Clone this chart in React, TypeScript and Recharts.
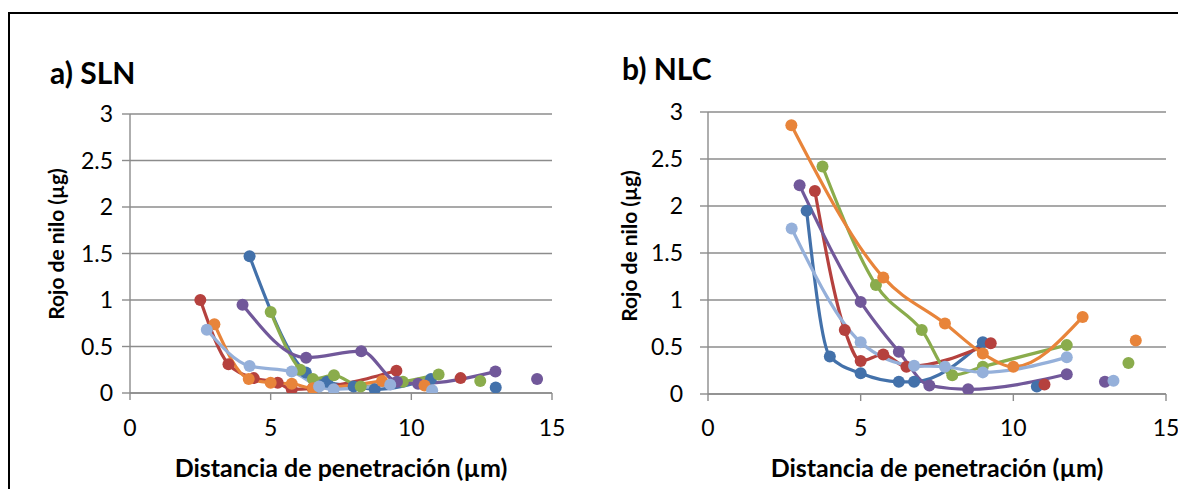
import { CartesianGrid, Line, LineChart, XAxis, YAxis } from 'recharts'

const FONT = 'Lato, "Open Sans", sans-serif'
const GRID = '#8c8c8c'

const BLUE = '#4371aa'
const RED = '#b5413e'
const GREEN = '#8aac4c'
const PURPLE = '#71589a'
const ORANGE = '#e8843a'
const LIGHT_BLUE = '#95b0da'

const X_TICKS = [0, 5, 10, 15]
const Y_TICKS = [0, 0.5, 1, 1.5, 2, 2.5, 3]

// a) SLN — connected points, then the loose point at the far end of each series
const slnBlue = [[4.25, 1.47], [6.25, 0.22], [7.0, 0.12], [7.95, 0.07], [8.7, 0.04], [10.7, 0.15]]
const slnBlueLoose = [[13.0, 0.06]]
const slnRed = [[2.5, 1.0], [3.5, 0.31], [4.4, 0.16], [5.25, 0.11], [5.75, 0.04], [6.5, 0.05], [9.47, 0.24]]
const slnRedLoose = [[11.75, 0.16]]
const slnGreen = [[5.0, 0.87], [6.05, 0.25], [6.5, 0.15], [7.25, 0.19], [8.2, 0.07], [9.7, 0.12], [10.97, 0.2]]
const slnGreenLoose = [[12.45, 0.13]]
const slnPurple = [[4.0, 0.95], [6.26, 0.38], [8.22, 0.45], [9.49, 0.12], [10.24, 0.1], [12.99, 0.23]]
const slnPurpleLoose = [[14.47, 0.15]]
const slnOrange = [[3.0, 0.74], [4.22, 0.15], [5.0, 0.11], [5.75, 0.1], [6.5, 0.05], [8.96, 0.13]]
const slnOrangeLoose = [[10.47, 0.08]]
const slnLightBlue = [[2.73, 0.68], [4.25, 0.29], [5.75, 0.23], [6.72, 0.07], [7.24, 0.04], [9.25, 0.09]]
const slnLightBlueLoose = [[10.74, 0.03]]

// b) NLC
const nlcBlue = [[3.23, 1.95], [3.99, 0.4], [5.0, 0.22], [6.25, 0.13], [6.75, 0.13], [9.0, 0.55]]
const nlcBlueLoose = [[10.77, 0.08]]
const nlcRed = [[3.5, 2.16], [4.48, 0.68], [5.0, 0.35], [5.74, 0.42], [6.5, 0.29], [9.26, 0.54]]
const nlcRedLoose = [[11.02, 0.1]]
const nlcGreen = [[3.75, 2.42], [5.5, 1.16], [7.0, 0.68], [8.0, 0.2], [9.0, 0.29], [11.75, 0.52]]
const nlcGreenLoose = [[13.77, 0.33]]
const nlcPurple = [[3.0, 2.22], [5.0, 0.98], [6.25, 0.45], [7.25, 0.09], [8.52, 0.05], [11.75, 0.21]]
const nlcPurpleLoose = [[13.0, 0.13]]
const nlcOrange = [[2.73, 2.86], [5.74, 1.24], [7.76, 0.75], [9.0, 0.43], [10.0, 0.29], [12.27, 0.82]]
const nlcOrangeLoose = [[14.01, 0.57]]
const nlcLightBlue = [[2.74, 1.76], [5.0, 0.55], [6.75, 0.3], [7.76, 0.29], [9.0, 0.23], [11.75, 0.39]]
const nlcLightBlueLoose = [[13.28, 0.14]]

type Pt = number[]
type Series = { color: string; main: Pt[]; loose: Pt[] }

const SLN: Series[] = [
  { color: BLUE, main: slnBlue, loose: slnBlueLoose },
  { color: RED, main: slnRed, loose: slnRedLoose },
  { color: GREEN, main: slnGreen, loose: slnGreenLoose },
  { color: PURPLE, main: slnPurple, loose: slnPurpleLoose },
  { color: ORANGE, main: slnOrange, loose: slnOrangeLoose },
  { color: LIGHT_BLUE, main: slnLightBlue, loose: slnLightBlueLoose },
]

const NLC: Series[] = [
  { color: BLUE, main: nlcBlue, loose: nlcBlueLoose },
  { color: RED, main: nlcRed, loose: nlcRedLoose },
  { color: GREEN, main: nlcGreen, loose: nlcGreenLoose },
  { color: PURPLE, main: nlcPurple, loose: nlcPurpleLoose },
  { color: ORANGE, main: nlcOrange, loose: nlcOrangeLoose },
  { color: LIGHT_BLUE, main: nlcLightBlue, loose: nlcLightBlueLoose },
]

const toRows = (pts: Pt[]) => pts.map(([x, y]) => ({ x, y }))

const TICK = { fill: '#000', fontSize: 23, fontFamily: FONT }
const DOT_R = 6

function Panel({
  series,
  left,
  width,
  margin,
  yTickMargin,
  xTickMargin,
}: {
  series: Series[]
  left: number
  width: number
  margin: { top: number; right: number; left: number; bottom: number }
  yTickMargin: number
  xTickMargin: number
}) {
  return (
    <div style={{ position: 'absolute', left, top: 0 }}>
      <LineChart width={width} height={481} margin={margin}>
        <CartesianGrid vertical={false} stroke={GRID} strokeWidth={1.4} />
        <XAxis
          type="number"
          dataKey="x"
          domain={[0, 15]}
          ticks={X_TICKS}
          allowDataOverflow
          stroke={GRID}
          strokeWidth={1.4}
          tickSize={7}
          tickMargin={xTickMargin}
          tick={TICK}
          height={60}
        />
        <YAxis
          type="number"
          dataKey="y"
          domain={[0, 3]}
          ticks={Y_TICKS}
          allowDataOverflow
          stroke={GRID}
          strokeWidth={1.4}
          tickSize={8}
          tickMargin={yTickMargin}
          tick={TICK}
          width={120}
        />
        {series.map((s, i) => (
          <Line
            key={'m' + i}
            data={toRows(s.main)}
            dataKey="y"
            type="monotone"
            stroke={s.color}
            strokeWidth={3.2}
            dot={{ r: DOT_R, fill: s.color, stroke: s.color, strokeWidth: 0 }}
            activeDot={false}
            isAnimationActive={false}
          />
        ))}
        {series.map((s, i) => (
          <Line
            key={'l' + i}
            data={toRows(s.loose)}
            dataKey="y"
            stroke="none"
            dot={{ r: DOT_R, fill: s.color, stroke: s.color, strokeWidth: 0 }}
            activeDot={false}
            isAnimationActive={false}
          />
        ))}
      </LineChart>
    </div>
  )
}

function Title({ text, left, top }: { text: string; left: number; top: number }) {
  return (
    <div style={{ position: 'absolute', left, top, fontFamily: FONT, fontWeight: 700, fontSize: 30, lineHeight: 1, whiteSpace: 'nowrap' }}>
      {text}
    </div>
  )
}

function AxisTitle({ text, cx, cy, size, rotate }: { text: string; cx: number; cy: number; size: number; rotate?: boolean }) {
  return (
    <div
      style={{
        position: 'absolute',
        left: cx,
        top: cy,
        transform: `translate(-50%, -50%)${rotate ? ' rotate(-90deg)' : ''}`,
        fontFamily: FONT,
        fontWeight: 700,
        fontSize: size,
        lineHeight: 1,
        whiteSpace: 'nowrap',
      }}
    >
      {text}
    </div>
  )
}

export default function App() {
  return (
    <div style={{ position: 'relative', width: 1178, height: 481, background: '#fff' }}>
      <div
        style={{
          position: 'absolute',
          left: 0,
          top: 4,
          width: 1178,
          height: 477,
          borderLeft: '2.5px solid #000',
          borderTop: '2.5px solid #000',
          boxSizing: 'border-box',
        }}
      />
      <Panel series={SLN} left={2} width={560} margin={{ top: 106, right: 18, left: 0, bottom: 36 }} yTickMargin={9} xTickMargin={20} />
      <Panel series={NLC} left={580} width={598} margin={{ top: 104, right: 20, left: 0, bottom: 35 }} yTickMargin={17} xTickMargin={19} />
      <Title text="a) SLN" left={42} top={49} />
      <Title text="b) NLC" left={614} top={45} />
      <AxisTitle text="Rojo de nilo (µg)" cx={47} cy={236} size={21} rotate />
      <AxisTitle text="Rojo de nilo (µg)" cx={620} cy={238} size={21} rotate />
      <AxisTitle text="Distancia de penetración (µm)" cx={333} cy={459} size={25} />
      <AxisTitle text="Distancia de penetración (µm)" cx={929} cy={459} size={25} />
    </div>
  )
}
